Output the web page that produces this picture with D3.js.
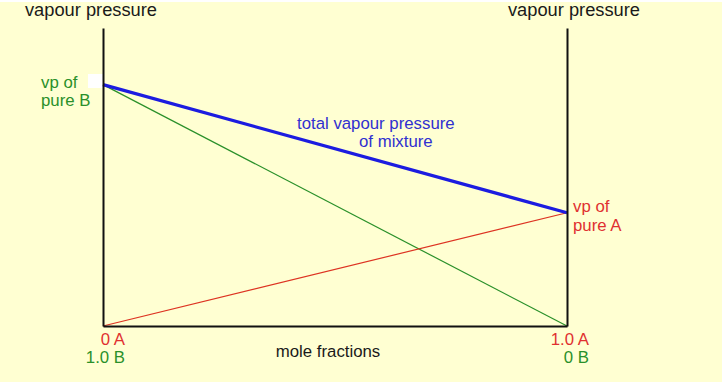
<!DOCTYPE html>
<html><head><meta charset="utf-8">
<script src="https://cdn.jsdelivr.net/npm/d3@7"></script>
<style>html,body{margin:0;padding:0;background:#fff;}svg{display:block;}</style>
</head><body>
<script>
// mole fraction of A
const moleFractionA = [0, 1];
// partial vapour pressures (arbitrary units, 0..100 = axis height)
const partialA = [0, 38];
const partialB = [81, 0];
const totalVP = [81, 38];
const bottomLabelsA = ["0 A", "1.0 A"];
const bottomLabelsB = ["1.0 B", "0 B"];

const W = 724, H = 382;
const svg = d3.select("body").append("svg").attr("width", W).attr("height", H);
svg.append("rect").attr("x", 0).attr("y", 2).attr("width", 722).attr("height", H - 2).attr("fill", "#ffffd2");

const x = d3.scaleLinear().domain([0, 1]).range([103, 567]);
const y = d3.scaleLinear().domain([0, 100]).range([326, 28]);
const font = "Liberation Sans, Arial, sans-serif";

// white patch left of axis
svg.append("rect").attr("x", 88).attr("y", 74).attr("width", 15).attr("height", 14).attr("fill", "#ffffff");

const line = d3.line().x((d, i) => x(moleFractionA[i])).y(d => y(d));

svg.append("path").datum(partialB).attr("d", line).attr("fill", "none").attr("stroke", "#2a902a").attr("stroke-width", 1.2);
svg.append("path").datum(partialA).attr("d", line).attr("fill", "none").attr("stroke", "#dd3322").attr("stroke-width", 1.2);
svg.append("path").datum(totalVP).attr("d", line).attr("fill", "none").attr("stroke", "#1c1ce0").attr("stroke-width", 3.2);

// axes
const axL = d3.axisLeft(y).tickValues([]).tickSizeOuter(0);
svg.append("g").attr("transform", `translate(${x(0)},0)`).call(axL)
  .call(g => g.select(".domain").attr("stroke", "#111").attr("stroke-width", 2));
svg.append("g").attr("transform", `translate(${x(1)},0)`).call(axL)
  .call(g => g.select(".domain").attr("stroke", "#111").attr("stroke-width", 2));
svg.append("g").attr("transform", `translate(0,${y(0)})`).call(d3.axisBottom(x).tickValues([]).tickSizeOuter(0))
  .call(g => g.select(".domain").attr("stroke", "#111").attr("stroke-width", 2));

function txt(t, px, py, col, anchor, size) {
  svg.append("text").attr("x", px).attr("y", py).attr("fill", col).attr("text-anchor", anchor || "start")
    .attr("font-family", font).attr("font-size", size || 16.8).text(t);
}
txt("vapour pressure", 91, 16, "#1a1a1a", "middle", 18.3);
txt("vapour pressure", 574, 16, "#1a1a1a", "middle", 18.3);
txt("vp of", 41, 88, "#2a902a");
txt("pure B", 41, 106, "#2a902a");
txt("vp of", 573, 212, "#e03030");
txt("pure A", 573, 231, "#e03030");
txt("total vapour pressure", 297, 129, "#3030d0");
txt("of mixture", 359, 147, "#3030d0");
txt("mole fractions", 328, 357, "#1a1a1a", "middle");
bottomLabelsA.forEach((t, i) => txt(t, x(moleFractionA[i]) + 22, 345, "#e03030", "end"));
bottomLabelsB.forEach((t, i) => txt(t, x(moleFractionA[i]) + 22, 363, "#2a902a", "end"));
</script>
</body></html>
